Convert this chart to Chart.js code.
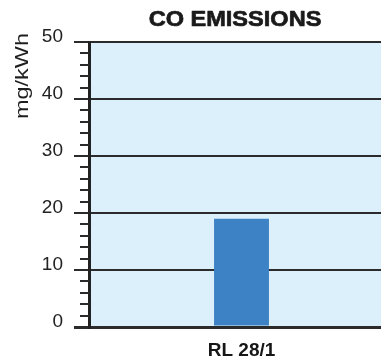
<!DOCTYPE html>
<html>
<head>
<meta charset="utf-8">
<script src="https://cdn.jsdelivr.net/npm/chart.js@4"></script>
<style>
  html, body { margin: 0; padding: 0; background: #fff; overflow: hidden; }
  #wrap { position: relative; width: 394px; height: 358px; }
</style>
</head>
<body>
<div id="wrap"><canvas id="c" width="394" height="358"></canvas></div>
<script>
// Chart content
const chartTitle = 'CO EMISSIONS';
const unitLabel = 'mg/kWh';
const categories = ['RL 28/1'];
const coValues = [19];
const yMin = 0;
const yMax = 50;
const majorStep = 10;
const minorStep = 2;

const INK = '#2b2b2b';
const PLOT_BG = 'rgb(220,240,252)';
const BAR_BLUE = '#3d82c4';

// Light-blue plot background
const plotBackground = {
  id: 'plotBackground',
  beforeDraw(chart) {
    const { ctx, chartArea: a } = chart;
    ctx.save();
    ctx.fillStyle = PLOT_BG;
    ctx.fillRect(a.left, a.top, a.right - a.left, a.bottom - a.top);
    ctx.restore();
  }
};

// Short minor ticks between the labelled ticks, plus title and unit label
const decorations = {
  id: 'decorations',
  afterDraw(chart) {
    const { ctx, chartArea: a } = chart;
    const y = chart.scales.y;
    ctx.save();
    ctx.strokeStyle = INK;
    ctx.lineWidth = 2;
    for (let v = yMin + minorStep; v < yMax; v += minorStep) {
      if (v % majorStep === 0) continue;
      const py = Math.round(y.getPixelForValue(v));
      ctx.beginPath();
      ctx.moveTo(a.left - 9, py);
      ctx.lineTo(a.left, py);
      ctx.stroke();
    }

    // Heavy title, slightly widened
    ctx.save();
    ctx.fillStyle = '#1a1a1a';
    ctx.strokeStyle = '#1a1a1a';
    ctx.lineWidth = 0.7;
    ctx.lineJoin = 'round';
    ctx.font = 'bold 22px "Liberation Sans", Arial, sans-serif';
    ctx.textAlign = 'center';
    ctx.textBaseline = 'middle';
    ctx.translate(235, 20);
    ctx.scale(1.07, 1);
    ctx.fillText(chartTitle, 0, 0);
    ctx.strokeText(chartTitle, 0, 0);
    ctx.restore();

    // Rotated unit label near the top of the axis
    ctx.font = '18px "Liberation Sans", Arial, sans-serif';
    ctx.fillStyle = '#1e1e1e';
    ctx.textAlign = 'center';
    ctx.textBaseline = 'middle';
    const w = ctx.measureText(unitLabel).width;
    ctx.translate(23, 76);
    ctx.rotate(-Math.PI / 2);
    ctx.scale(86 / w, 1);
    ctx.fillText(unitLabel, 0, 0);
    ctx.restore();
  }
};

new Chart(document.getElementById('c'), {
  type: 'bar',
  data: {
    labels: categories,
    datasets: [{
      data: coValues,
      backgroundColor: BAR_BLUE,
      borderWidth: 0,
      barPercentage: 0.18,
      categoryPercentage: 1
    }]
  },
  options: {
    responsive: false,
    animation: false,
    layout: { padding: { top: 42, left: 0, right: 0, bottom: 0 } },
    plugins: {
      legend: { display: false },
      title: { display: false },
      tooltip: { enabled: false }
    },
    scales: {
      x: {
        grid: { display: false, drawTicks: false },
        border: { display: false },
        ticks: {
          color: '#161616',
          font: { family: '"Liberation Sans", Arial, sans-serif', size: 19, weight: 'bold' },
          padding: 12
        },
        afterFit(scale) { scale.height = 31; }
      },
      y: {
        min: yMin,
        max: yMax,
        ticks: {
          stepSize: majorStep,
          color: '#222',
          font: { family: '"Liberation Sans", Arial, sans-serif', size: 19 },
          padding: 11,
          labelOffset: -5
        },
        grid: {
          color: INK,
          lineWidth: (c) => (c.tick && c.tick.value === 0 ? 3 : 2),
          tickLength: 15,
          tickColor: INK,
          tickWidth: (c) => (c.tick && c.tick.value === 0 ? 3 : 2)
        },
        border: { display: true, color: '#222', width: 3 },
        afterFit(scale) { scale.width = 89; }
      }
    }
  },
  plugins: [plotBackground, decorations]
});
</script>
</body>
</html>
